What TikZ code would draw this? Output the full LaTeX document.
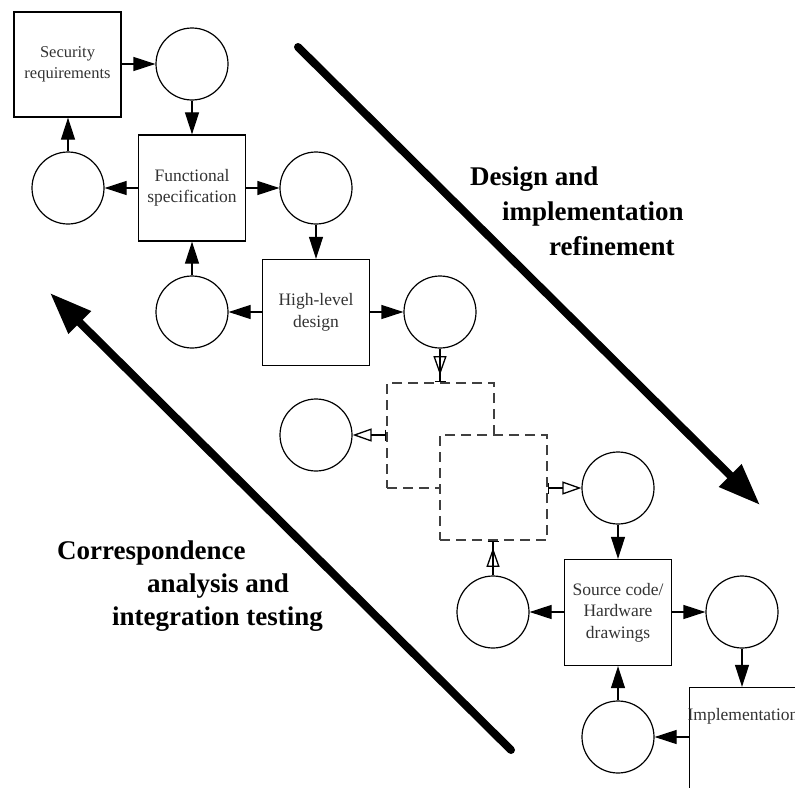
\documentclass[tikz,border=0pt]{standalone}
\usepackage{fontspec}
\setmainfont{Liberation Serif}
\usetikzlibrary{arrows.meta}
\begin{document}
\begin{tikzpicture}[x=1pt,y=-1pt,
  circ/.style={draw, circle, line width=1.2pt, minimum size=72pt, inner sep=0pt},
  sbox/.style={draw, rectangle, line width=1.3pt, minimum width=107pt, minimum height=106pt,
    align=center, inner sep=2pt, text=black!80, font=\fontsize{17.5}{21.5}\selectfont},
  dbox/.style={draw=black!75, rectangle, line width=1.2pt, dash pattern=on 10pt off 6pt,
    fill=white, minimum width=107pt, minimum height=105pt},
  arr/.style={line width=1.2pt, -{Triangle[length=22pt 0 0,width=14pt 0 0]}},
  oarrout/.style={line width=1.3pt, {Bar[width=11pt 0 0]}-{Triangle[open,length=19pt 0 0,width=13pt 0 0]}},
  oarrin/.style={line width=1.3pt, -{Triangle[open,length=19pt 0 0,width=13pt 0 0,sep=6pt]Bar[width=11pt 0 0]}},
  bigarr/.style={line width=8pt, line cap=round, -{Triangle[length=42pt 0 0,width=30pt 0 0]}},
  biglabel/.style={anchor=base west, inner sep=0pt, font=\fontsize{27}{33}\selectfont\bfseries}
]
\useasboundingbox (0,0) rectangle (795,787);
\clip (0,0) rectangle (795,787);

% boxes
\node[sbox, minimum width=107pt, minimum height=105pt, font=\fontsize{16.5}{21}\selectfont] (sec) at (67.5,64.5) {Security\\requirements};
\node[sbox] (fs) at (192,188) {Functional\\specification};
\node[sbox] (hld) at (316,312.5) {High-level\\design};
\node[sbox] (sc) at (618,612.5) {Source code/\\Hardware\\drawings};
\node[sbox] (impl) at (743,740.5) {};
\node[text=black!80, font=\fontsize{17.5}{21.5}\selectfont, inner sep=0pt] (impltext) at (743,716) {Implementation};

% circles
\node[circ] (c1) at (192,64) {};
\node[circ] (c2) at (68,188) {};
\node[circ] (c3) at (316,188) {};
\node[circ] (c4) at (192,312) {};
\node[circ] (c5) at (440,312) {};
\node[circ] (c6) at (316,435) {};
\node[circ] (c7) at (618,488) {};
\node[circ] (c8) at (493,612) {};
\node[circ] (c9) at (742,612) {};
\node[circ] (c10) at (618,737) {};

% dashed boxes
\node[dbox] (d1) at (440.5,435.5) {};
\node[dbox] (d2) at (493.5,487.5) {};

% connectors
\draw[arr] (sec.east |- c1.west) -- (c1.west);
\draw[arr] (c1.south) -- (c1.south |- fs.north);
\draw[arr] (fs.west |- c2.east) -- (c2.east);
\draw[arr] (c2.north) -- (c2.north |- sec.south);
\draw[arr] (fs.east |- c3.west) -- (c3.west);
\draw[arr] (c3.south) -- (c3.south |- hld.north);
\draw[arr] (hld.west |- c4.east) -- (c4.east);
\draw[arr] (c4.north) -- (c4.north |- fs.south);
\draw[arr] (hld.east |- c5.west) -- (c5.west);
\draw[oarrin] (c5.south) -- (c5.south |- d1.north);
\draw[oarrout] (d1.west |- c6.east) -- (c6.east);
\draw[oarrout] (d2.east |- c7.west) -- (c7.west);
\draw[oarrin] (c8.north) -- (c8.north |- d2.south);
\draw[arr] (c7.south) -- (c7.south |- sc.north);
\draw[arr] (sc.west |- c8.east) -- (c8.east);
\draw[arr] (sc.east |- c9.west) -- (c9.west);
\draw[arr] (c10.north) -- (c10.north |- sc.south);
\draw[arr] (c9.south) -- (c9.south |- impl.north);
\draw[arr] (impl.west |- c10.east) -- (c10.east);

% big arrows
\coordinate (da1) at (298,47);
\coordinate (da2) at (760,505);
\draw[bigarr] (da1) -- (da2);
\coordinate (ca1) at (511,750);
\coordinate (ca2) at (50,293);
\draw[bigarr] (ca1) -- (ca2);

% labels
\node[biglabel] (l1) at (470,185) {Design and};
\node[biglabel] (l2) at (502,220) {implementation};
\node[biglabel] (l3) at (549,255) {refinement};
\node[biglabel] (l4) at (57,559) {Correspondence};
\node[biglabel] (l5) at (147,592) {analysis and};
\node[biglabel] (l6) at (112,625) {integration testing};
\end{tikzpicture}
\end{document}
